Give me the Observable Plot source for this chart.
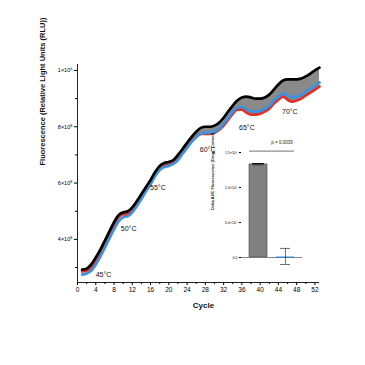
<!DOCTYPE html>
<html><head><meta charset="utf-8">
<script src="https://cdn.jsdelivr.net/npm/d3@7"></script>
<script src="https://cdn.jsdelivr.net/npm/@observablehq/plot@0.6"></script>
<style>
body{margin:0;background:#fff;}
#wrap{position:relative;width:365px;height:365px;overflow:hidden;}
#wrap svg{position:absolute;left:0;top:0;}
</style></head><body><div id="wrap"></div>
<script>
// Main chart data (cycle vs fluorescence, RLU)
const cycles = d3.range(1, 54);
const blackSeries = [293000,296000,311000,336000,364000,396000,429000,461000,486000,496000,500000,514000,536000,561000,586000,611000,639000,661000,671000,675000,682000,700000,721000,743000,764000,782000,796000,800000,800000,804000,814000,832000,854000,875000,893000,904000,907000,904000,900000,900000,904000,914000,932000,950000,964000,968000,968000,968000,971000,979000,989000,1000000,1010000];
const redSeries = [286000,289000,300000,321000,350000,382000,414000,450000,479000,489000,489000,504000,525000,550000,579000,604000,629000,650000,661000,664000,671000,686000,707000,729000,750000,764000,775000,775000,775000,779000,789000,804000,825000,846000,861000,861000,850000,843000,843000,846000,854000,864000,882000,896000,907000,896000,889000,893000,900000,911000,921000,932000,943000];
const blueSeries = [275000,279000,289000,311000,339000,371000,404000,436000,464000,479000,482000,496000,518000,543000,571000,596000,625000,646000,657000,661000,668000,682000,704000,725000,746000,764000,775000,779000,779000,782000,793000,811000,832000,854000,868000,871000,861000,854000,854000,857000,864000,875000,893000,907000,918000,911000,904000,907000,914000,925000,936000,946000,957000];
const tempLabels = ["45°C","50°C","55°C","60°C","65°C","70°C"];
const tempCycles = [5.7, 11.2, 17.6, 28.5, 37.1, 46.5];
const tempValues = [275000, 439000, 582000, 717000, 796000, 854000];
const xMajorTicks = d3.range(0, 53, 4);
const xMinorTicks = d3.range(2, 53, 4);
const yMajorTicks = [400000, 600000, 800000, 1000000];
const yTickLabels = ["4×10⁵", "6×10⁵", "8×10⁵", "1×10⁶"];
const yMinorTicks = [300000, 500000, 700000, 900000];

// Inset data
const insetGroups = ["Drug", "Control"];
const insetMeans = [133000, 500];
const insetErrLow = [132000, -10000];
const insetErrHigh = [134000, 13000];
const insetTicks = [0, 50000, 100000, 150000];
const insetTickLabels = ["0.0", "5.0×10⁴", "1.0×10⁵", "1.5×10⁵"];
const pText = "p = 0.0039";

const rows = cycles.map((c, i) => ({cycle: c, black: blackSeries[i], red: redSeries[i], blue: blueSeries[i]}));
const temps = tempLabels.map((t, i) => ({label: t, x: tempCycles[i], y: tempValues[i]}));
const font = "Liberation Sans, Arial, sans-serif";
const blank = () => "";

const main = Plot.plot({
  width: 365, height: 365,
  marginLeft: 77, marginRight: 46, marginTop: 64, marginBottom: 83,
  style: {fontFamily: font, background: "transparent"},
  x: {domain: [0, 53]},
  y: {domain: [247000, 1021000]},
  marks: [
    Plot.areaY(rows, {x: "cycle", y1: "black", y2: "red", fill: "#8a8a8a", curve: "monotone-x"}),
    Plot.lineY(rows, {x: "cycle", y: "red", stroke: "#e0302a", strokeWidth: 2.7, curve: "monotone-x"}),
    Plot.lineY(rows, {x: "cycle", y: "blue", stroke: "#3a92e0", strokeWidth: 2.7, curve: "monotone-x"}),
    Plot.lineY(rows, {x: "cycle", y: "black", stroke: "#000", strokeWidth: 2.7, curve: "monotone-x"}),
    Plot.text(temps, {x: "x", y: "y", text: "label", fontSize: 7, fill: "#111"}),
    Plot.ruleX([0], {stroke: "#222", strokeWidth: 1}),
    Plot.ruleY([247000], {stroke: "#222", strokeWidth: 1}),
    Plot.axisX({ticks: xMajorTicks, tickSize: 3, tickPadding: 2, fontSize: 6.5, label: null, tickFormat: d => d}),
    Plot.axisX({ticks: xMinorTicks, tickSize: 2, tickFormat: blank, label: null}),
    Plot.axisY({ticks: yMajorTicks, tickSize: 3, tickPadding: 2, fontSize: 5.5, label: null, tickFormat: d => yTickLabels[yMajorTicks.indexOf(d)]}),
    Plot.axisY({ticks: yMinorTicks, tickSize: 2, tickFormat: blank, label: null}),
    Plot.text(["Fluorescence (Relative Light Units (RLU))"], {frameAnchor: "left", dx: -35, dy: -8, rotate: -90, fontWeight: "bold", fontSize: 7.5, fill: "#111"}),
    Plot.text(["Cycle"], {frameAnchor: "bottom", dy: 25, dx: 5, fontWeight: "bold", fontSize: 8, fill: "#111"})
  ]
});

const ins = insetGroups.map((g, i) => ({g, mean: insetMeans[i], lo: insetErrLow[i], hi: insetErrHigh[i]}));
const inset = Plot.plot({
  width: 110, height: 150,
  marginLeft: 41, marginRight: 8, marginTop: 17, marginBottom: 10,
  style: {fontFamily: font, background: "transparent", overflow: "visible"},
  x: {type: "band", domain: insetGroups, paddingInner: 1/3, paddingOuter: 0.296, axis: null},
  y: {domain: [-25700, 150000]},
  marks: [
    Plot.barY(ins.slice(0, 1), {x: "g", y: "mean", fill: "#808080", stroke: "#444", strokeWidth: 0.6}),
    Plot.ruleY([0], {stroke: "#666", strokeWidth: 0.8}),
    Plot.tickY(ins.slice(1), {x: "g", y: "mean", stroke: "#2a7fcf", strokeWidth: 1.2}),
    Plot.ruleX(ins, {x: "g", y1: "lo", y2: "hi", stroke: "#333", strokeWidth: 0.7}),
    Plot.tickY(ins, {x: "g", y: "lo", stroke: "#333", strokeWidth: 0.7, inset: 4}),
    Plot.tickY(ins.slice(0, 1), {x: "g", y: "hi", stroke: "#000", strokeWidth: 1.2, inset: 3}),
    Plot.tickY(ins.slice(1), {x: "g", y: "hi", stroke: "#333", strokeWidth: 0.7, inset: 4}),
    Plot.ruleY([152000], {x1: ["Drug"], x2: ["Control"], stroke: "#333", strokeWidth: 0.7}),
    Plot.text([pText], {frameAnchor: "top", dx: 10, dy: -12, fontSize: 4.5, fill: "#222"}),
    Plot.ruleX([0], {stroke: "#333", strokeWidth: 0.7}),
    Plot.axisY({ticks: insetTicks, tickSize: 2, tickPadding: 2, fontSize: 3.6, label: null, tickFormat: d => insetTickLabels[insetTicks.indexOf(d)]}),
    Plot.text(["Delta AUC Fluorescence (Drug - Control)"], {frameAnchor: "left", dx: -29, dy: -4, rotate: -90, fontWeight: "bold", fontSize: 4, fill: "#111"})
  ]
});

const wrap = document.getElementById("wrap");
wrap.appendChild(main);
inset.style.left = "200px";
inset.style.top = "135px";
wrap.appendChild(inset);
</script>
</body></html>
